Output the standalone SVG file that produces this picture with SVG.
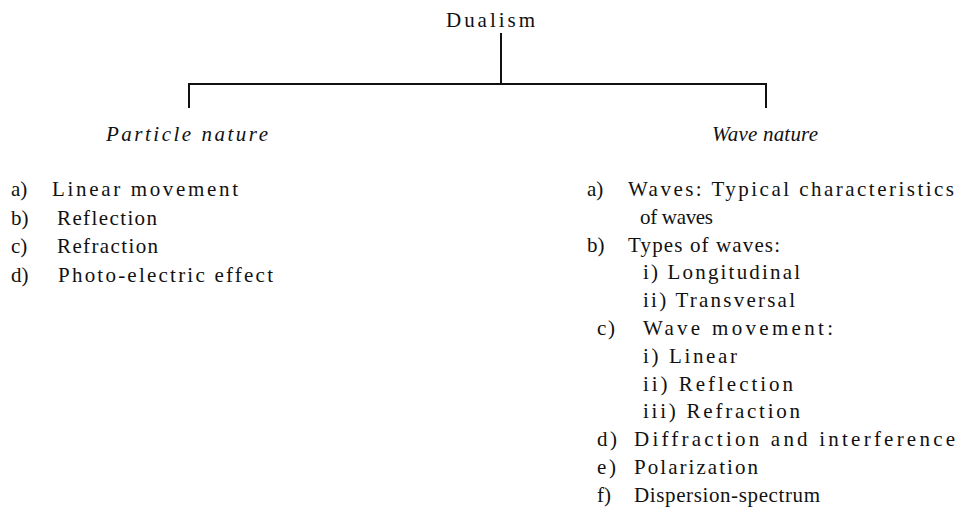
<svg xmlns="http://www.w3.org/2000/svg" width="961" height="515" viewBox="0 0 961 515">
<style>
text{font-family:"Liberation Serif","Times New Roman",serif;font-size:21px;fill:#111}
.it{font-style:italic}
.ln{stroke:#111;stroke-width:2;fill:none}
</style>
<rect width="961" height="515" fill="#fff"/>
<g id="connectors">
<path class="ln" d="M501 33V84M189 108V84H766V108"/>
</g>
<g id="root"><text x="446" y="27" textLength="89" lengthAdjust="spacing">Dualism</text></g>
<g id="particle">
<text class="it" x="106" y="141" textLength="162" lengthAdjust="spacing">Particle nature</text>
<text x="11" y="196">a)</text><text x="52" y="196" textLength="186" lengthAdjust="spacing">Linear movement</text>
<text x="11" y="224.5">b)</text><text x="57" y="224.5" textLength="100" lengthAdjust="spacing">Reflection</text>
<text x="11" y="253">c)</text><text x="57" y="253" textLength="101" lengthAdjust="spacing">Refraction</text>
<text x="11" y="281.5">d)</text><text x="58" y="281.5" textLength="215" lengthAdjust="spacing">Photo-electric effect</text>
</g>
<g id="wave">
<text class="it" x="712" y="141" textLength="106" lengthAdjust="spacing">Wave nature</text>
<text x="587" y="196">a)</text><text x="628" y="196" textLength="326" lengthAdjust="spacing">Waves: Typical characteristics</text>
<text x="640" y="223.8" textLength="73" lengthAdjust="spacing">of waves</text>
<text x="587" y="251.6">b)</text><text x="628" y="251.6" textLength="152" lengthAdjust="spacing">Types of waves:</text>
<text x="643" y="279.4" textLength="157" lengthAdjust="spacing">i) Longitudinal</text>
<text x="643" y="307.2" textLength="152" lengthAdjust="spacing">ii) Transversal</text>
<text x="597" y="335" textLength="18" lengthAdjust="spacing">c)</text><text x="643" y="335" textLength="190" lengthAdjust="spacing">Wave movement:</text>
<text x="643" y="362.8" textLength="94" lengthAdjust="spacing">i) Linear</text>
<text x="643" y="390.6" textLength="150" lengthAdjust="spacing">ii) Reflection</text>
<text x="643" y="418.4" textLength="157" lengthAdjust="spacing">iii) Refraction</text>
<text x="597" y="446.2" textLength="20" lengthAdjust="spacing">d)</text><text x="634" y="446.2" textLength="321" lengthAdjust="spacing">Diffraction and interference</text>
<text x="597" y="474" textLength="19" lengthAdjust="spacing">e)</text><text x="634" y="474" textLength="124" lengthAdjust="spacing">Polarization</text>
<text x="597" y="501.8">f)</text><text x="634" y="501.8" textLength="186" lengthAdjust="spacing">Dispersion-spectrum</text>
</g>
</svg>
